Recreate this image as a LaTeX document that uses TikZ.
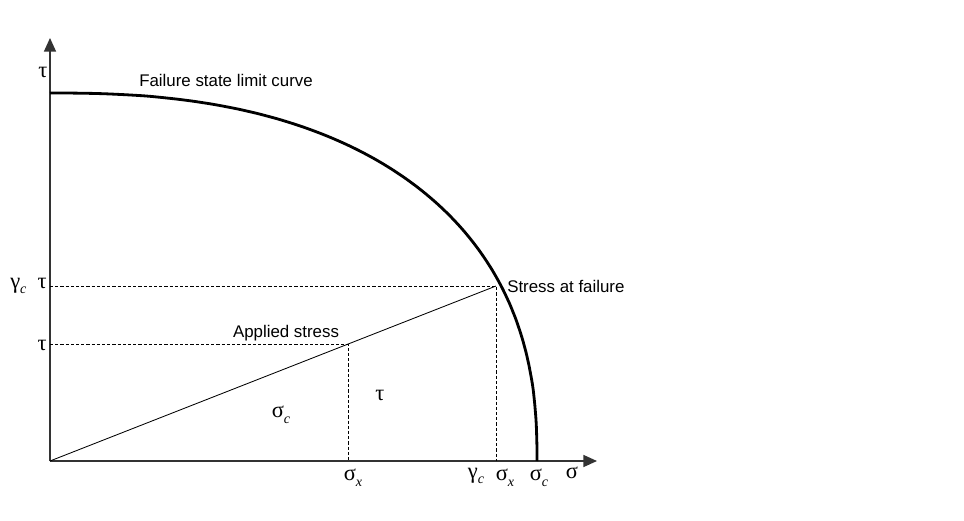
\documentclass[tikz,border=0pt]{standalone}
\usepackage{fontspec}
\setmainfont{Liberation Sans}
\newfontfamily\grk{Liberation Serif}
\usepackage{tikz}
\usetikzlibrary{
    arrows.meta,
    calc,
    positioning
}
\newcommand\sbs[1]{\raisebox{-0.55ex}{\fontsize{10}{10}\selectfont\textit{#1}}}
\tikzset{
  axis/.style = {
      draw=black!80,
      line width=1pt,
      -{Triangle[length=3.4mm,width=3mm]}
  },
  curve/.style = {
      draw,
      line width=2pt
  },
  stress/.style = {
      draw,
      line width=0.6pt
  },
  guide/.style = {
      draw,
      line width=0.5pt,
      dash pattern=on 0.8mm off 0.5mm
  },
  caption/.style = {
      font=\fontsize{12}{14}\selectfont,
      inner sep=0pt
  },
  greek/.style = {
      font=\fontsize{16}{18}\selectfont\grk,
      inner sep=0pt
  }
}

\begin{document}
\begin{tikzpicture}[x=0.25mm, y=-0.25mm]
        \useasboundingbox (0,0) rectangle (964,520);
        % Points
        \coordinate (O) at (50,461);
        \coordinate (ytip) at (50,38);
        \coordinate (xtip) at (597,461);
        \coordinate (top) at (50,93);
        \coordinate (end) at (537,461);
        \coordinate (F) at (496,286);
        \coordinate (A) at ($(O)!0.668!(F)$);
        % Axes
        \path[axis] (O) -- (ytip);
        \path[axis] (O) -- (xtip);
        % Failure curve
        \path[curve] (top) -- plot[domain=89.99:0.01, samples=120, smooth]
            ({50+487*pow(cos(\x),0.8333)}, {461-368*pow(sin(\x),0.8333)}) -- (end);
        % Stress line and guides
        \path[stress] (O) -- (F);
        \path[guide]
        (F -| O) -- (F) -- (F |- O)
        (A -| O) -- (A) -- (A |- O);
        % Labels
        \node[greek] (tauaxis) at (43,72) {τ};
        \node[caption] (curvelabel) at (226,80) {Failure state limit curve};
        \node[greek, anchor=east] (gtau) at (47,286) {γ\sbs{c}\ \ τ};
        \node[greek, anchor=east] (tau) at (47,345) {τ};
        \node[caption] (applied) at (286,333) {Applied stress};
        \node[caption, anchor=west] (failure) at (507,286) {Stress at failure};
        \node[greek] (sigc) at (281,415) {σ\sbs{c}};
        \node[greek] (tauin) at (380,395) {τ};
        \node[greek] (sigx) at (353,478) {σ\sbs{x}};
        \node[greek] (gc) at (476,476) {γ\sbs{c}};
        \node[greek] (sigxf) at (505,478) {σ\sbs{x}};
        \node[greek] (sigcf) at (539,478) {σ\sbs{c}};
        \node[greek] (sig) at (572,473) {σ};
    \end{tikzpicture}
\end{document}
